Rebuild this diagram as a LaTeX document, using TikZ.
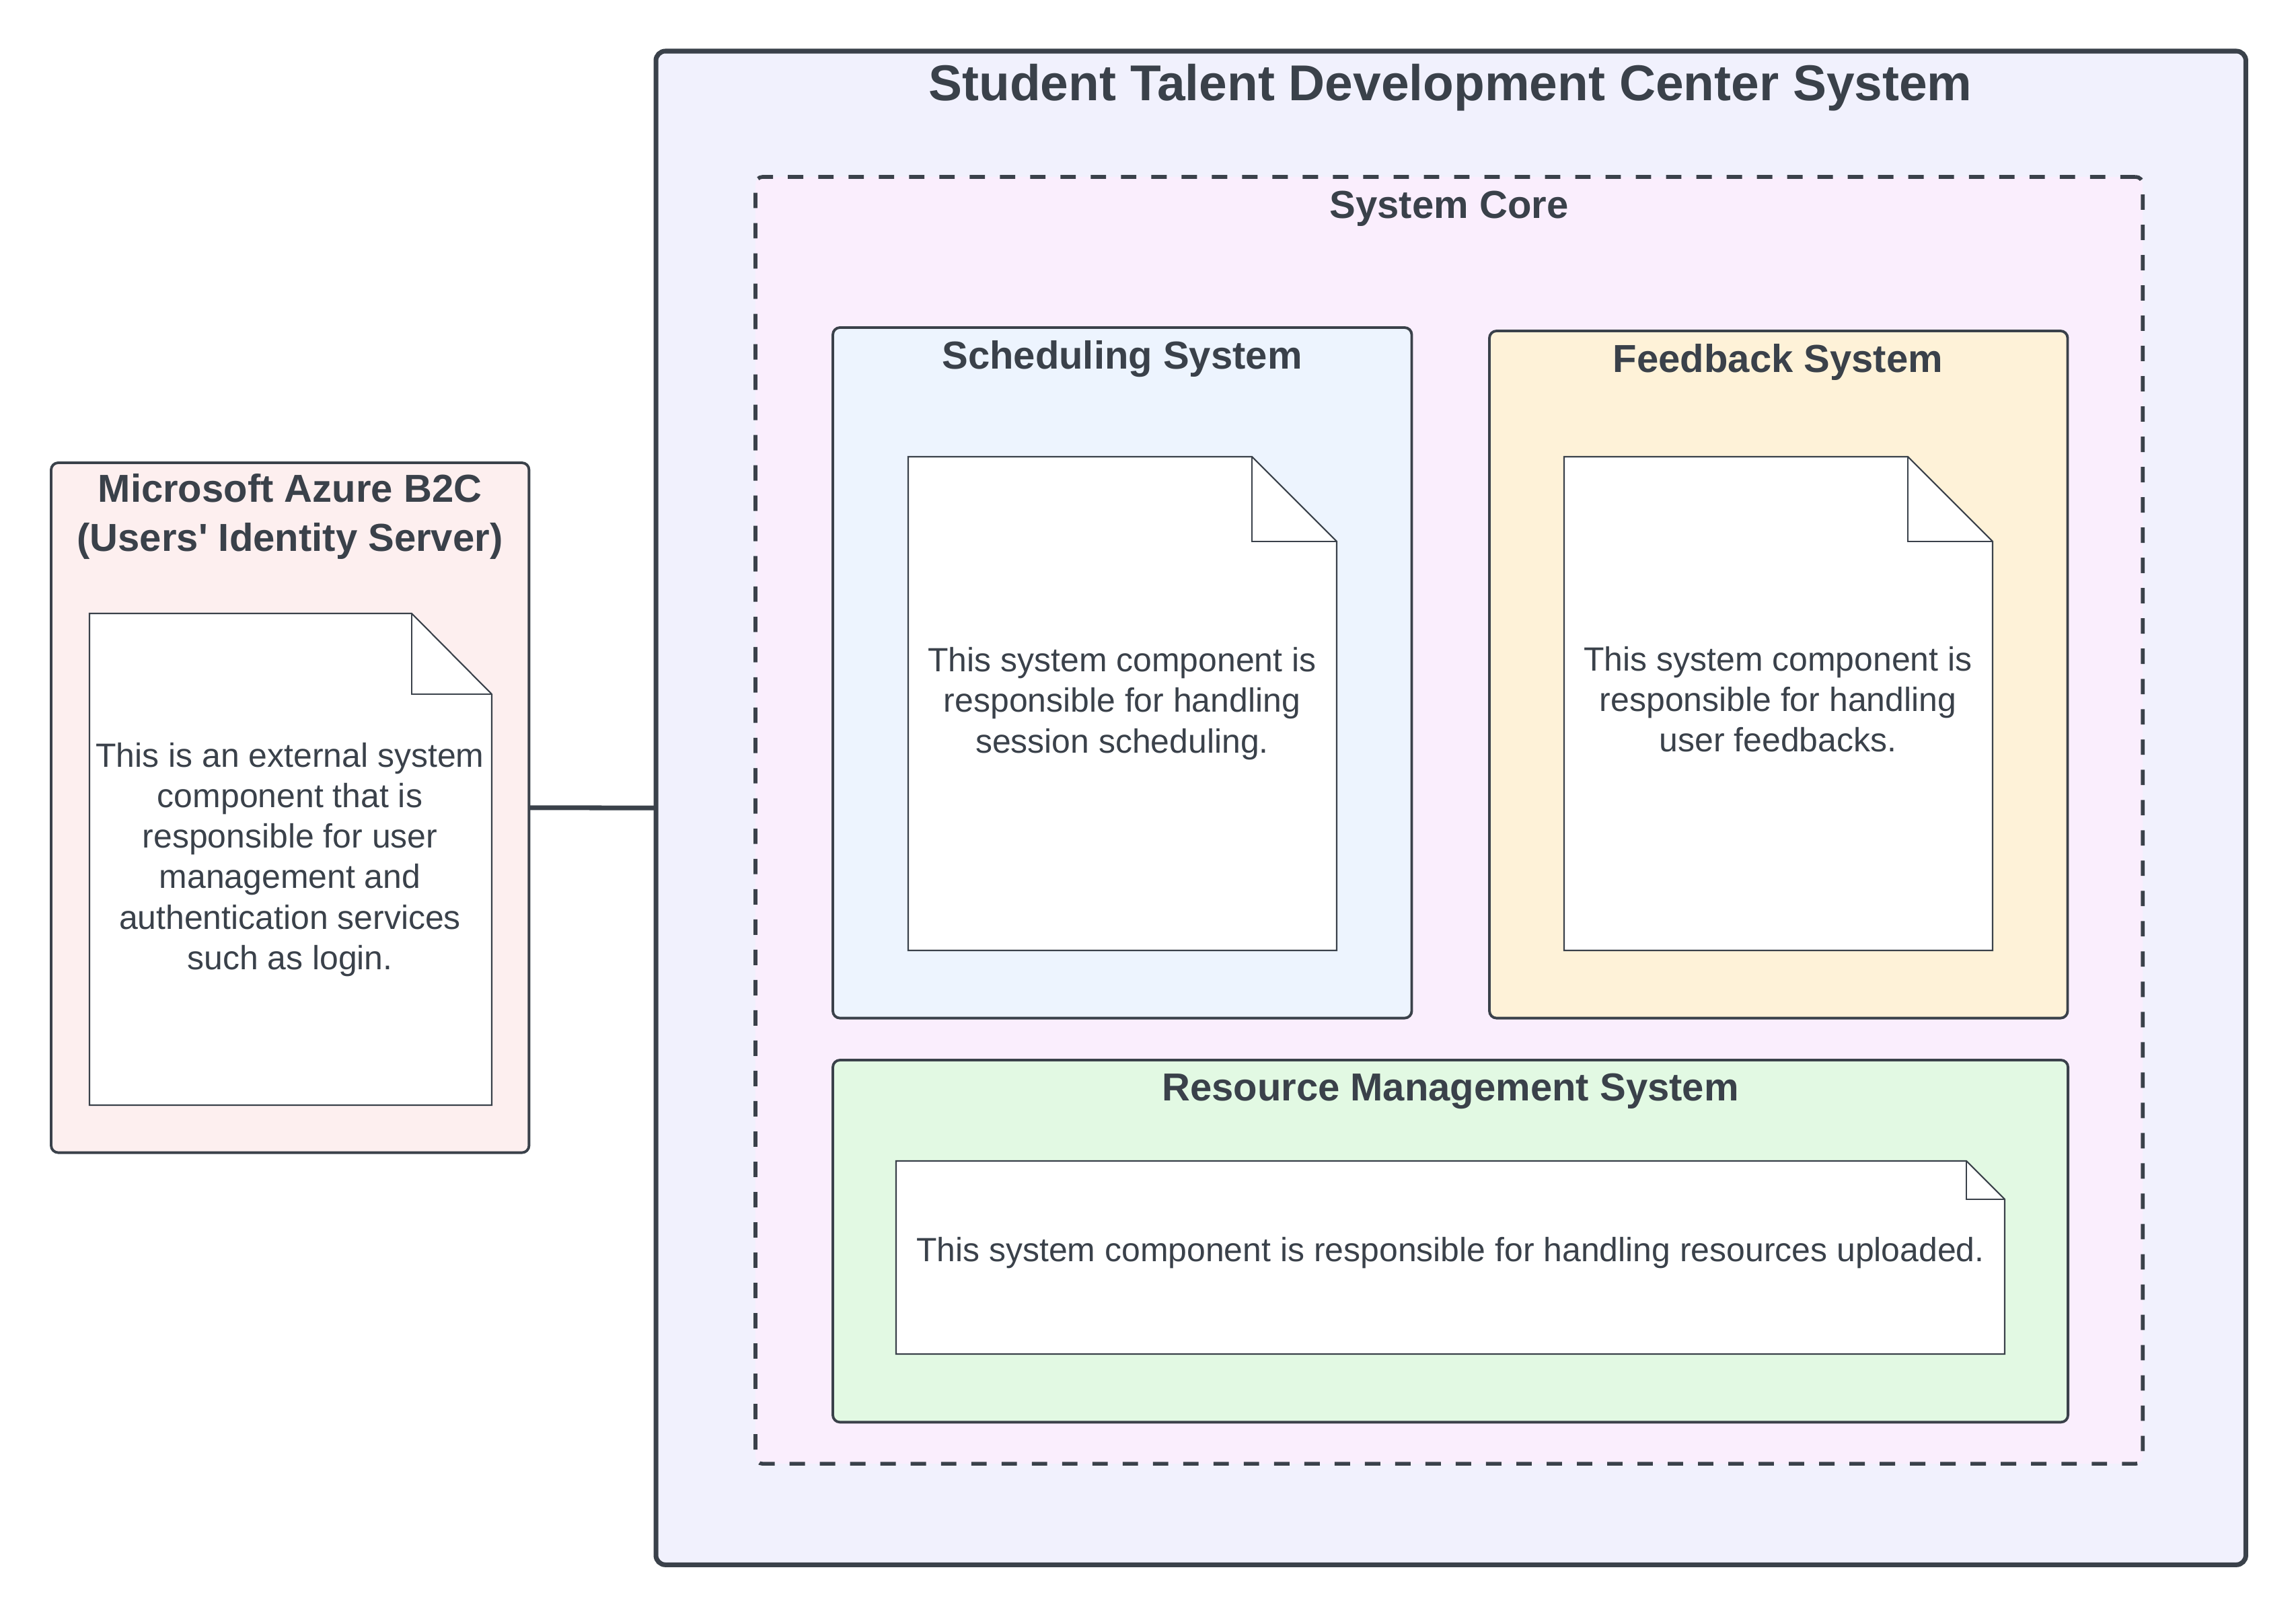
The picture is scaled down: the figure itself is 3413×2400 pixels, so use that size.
\documentclass[tikz,border=0pt]{standalone}
\usepackage{fontspec}
\setmainfont{Liberation Sans}
\definecolor{ink}{HTML}{3A414A}
\definecolor{outerfill}{HTML}{F1F1FD}
\definecolor{corefill}{HTML}{FAEEFD}
\definecolor{schedfill}{HTML}{EDF4FE}
\definecolor{feedfill}{HTML}{FEF2D8}
\definecolor{resfill}{HTML}{E2F9E3}
\definecolor{azfill}{HTML}{FDEFEF}
\tikzset{
  box/.style={draw=ink, rectangle, anchor=north west, inner sep=0pt, outer sep=0pt},
  outerbox/.style={box, line width=2pt, rounded corners=4pt, fill=outerfill},
  corebox/.style={box, line width=1.6pt, rounded corners=3pt, fill=corefill, dash pattern=on 6.5pt off 6.3pt},
  subbox/.style={box, line width=1.1pt, rounded corners=3pt},
  heading/.style={text=ink, font=\fontsize{16.5pt}{20.5pt}\selectfont\bfseries, align=center, inner sep=0pt},
  bigtitle/.style={text=ink, font=\fontsize{21.3pt}{25pt}\selectfont\bfseries, inner sep=0pt},
  body/.style={text=ink, font=\fontsize{14.2pt}{17.1pt}\selectfont, align=center, inner sep=0pt},
  docline/.style={draw=ink, line width=0.6pt, fill=white, line join=miter},
  link/.style={draw=ink, line width=2pt}
}
\begin{document}
\begin{tikzpicture}[x=0.01cm, y=-0.01cm]
\useasboundingbox[fill=white] (0,0) rectangle (3413,2400);

% outer system
\node[outerbox, minimum width=23.62cm, minimum height=22.49cm] (sys) at (975,76) {};
\node[bigtitle] (systitle) at (2156,130) {Student Talent Development Center System};

% system core
\node[corebox, minimum width=20.61cm, minimum height=19.12cm] (core) at (1123,263) {};
\node[heading] (coretitle) at (2154,310) {System Core};

% scheduling
\node[subbox, fill=schedfill, minimum width=8.60cm, minimum height=10.26cm] (sched) at (1238,487) {};
\node[heading] (schedtitle) at (1668,534) {Scheduling System};
\draw[docline] (1350,679) -- (1861,679) -- (1987,805) -- (1987,1413) -- (1350,1413) -- cycle;
\draw[docline, fill=none] (1861,679) -- (1861,805) -- (1987,805);
\node[body] (schedtext) at (1668,1046) {This system component is\\responsible for handling\\session scheduling.};

% feedback
\node[subbox, fill=feedfill, minimum width=8.59cm, minimum height=10.21cm] (feed) at (2214,492) {};
\node[heading] (feedtitle) at (2643,538) {Feedback System};
\draw[docline] (2325,679) -- (2836,679) -- (2962,805) -- (2962,1413) -- (2325,1413) -- cycle;
\draw[docline, fill=none] (2836,679) -- (2836,805) -- (2962,805);
\node[body] (feedtext) at (2643,1040) {This system component is\\responsible for handling\\user feedbacks.};

% resource management
\node[subbox, fill=resfill, minimum width=18.35cm, minimum height=5.38cm] (res) at (1238,1576) {};
\node[heading] (restitle) at (2156,1622) {Resource Management System};
\draw[docline] (1332,1726) -- (2923,1726) -- (2980,1783) -- (2980,2013) -- (1332,2013) -- cycle;
\draw[docline, fill=none] (2923,1726) -- (2923,1783) -- (2980,1783);
\node[body] (restext) at (2156,1863) {This system component is responsible for handling resources uploaded.};

% azure
\node[subbox, fill=azfill, minimum width=7.10cm, minimum height=10.25cm] (az) at (76,688) {};
\node[heading] (aztitle) at (431,768) {Microsoft Azure B2C\\(Users\textquotesingle{} Identity Server)};
\draw[docline] (133,912) -- (612,912) -- (731,1032) -- (731,1643) -- (133,1643) -- cycle;
\draw[docline, fill=none] (612,912) -- (612,1032) -- (731,1032);
\node[body] (aztext) at (431,1278) {This is an external system\\component that is\\responsible for user\\management and\\authentication services\\such as login.};

% connector
\draw[link] (az.east) -- (sys.west);
\end{tikzpicture}
\end{document}
